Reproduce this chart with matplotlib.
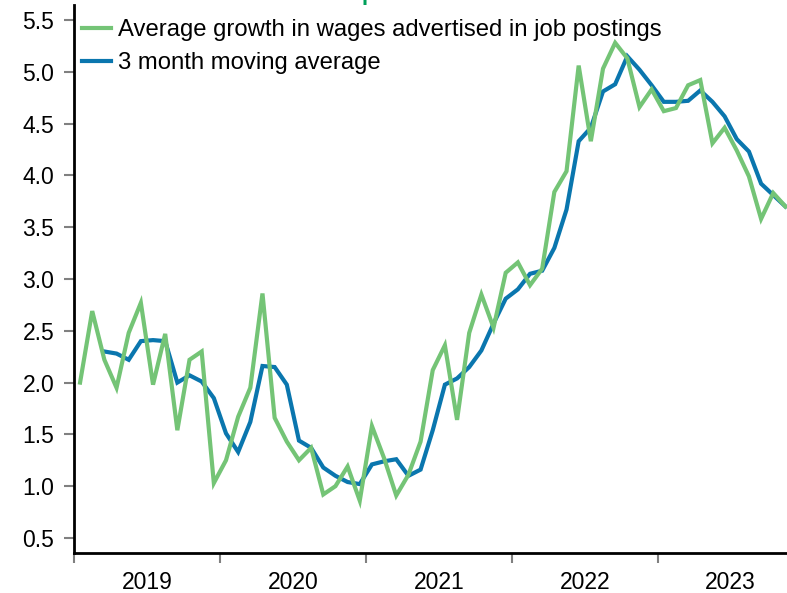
import numpy as np
import matplotlib
matplotlib.use('Agg')
import matplotlib.pyplot as plt

plt.rcParams['font.family'] = ['Liberation Sans', 'DejaVu Sans']

# monthly series, Jan 2019 - Nov 2023
years = ['2019', '2020', '2021', '2022', '2023']
wage_growth = [2.00, 2.69, 2.22, 1.95, 2.48, 2.77, 1.98, 2.47, 1.54, 2.22, 2.30, 1.03,
               1.25, 1.67, 1.95, 2.86, 1.66, 1.43, 1.25, 1.37, 0.92, 1.00, 1.19, 0.86,
               1.58, 1.27, 0.91, 1.11, 1.43, 2.12, 2.36, 1.64, 2.48, 2.85, 2.53, 3.06,
               3.16, 2.94, 3.10, 3.84, 4.04, 5.06, 4.33, 5.03, 5.28, 5.13, 4.66, 4.83,
               4.62, 4.65, 4.87, 4.92, 4.31, 4.46, 4.24, 3.99, 3.58, 3.83, 3.70]
moving_avg = [np.nan, np.nan, 2.30, 2.28, 2.22, 2.40, 2.41, 2.40, 2.00, 2.07, 2.01, 1.85,
              1.51, 1.33, 1.62, 2.16, 2.15, 1.98, 1.44, 1.37, 1.18, 1.10, 1.04, 1.02,
              1.21, 1.24, 1.26, 1.10, 1.16, 1.54, 1.98, 2.04, 2.15, 2.31, 2.57, 2.81,
              2.90, 3.05, 3.08, 3.30, 3.67, 4.33, 4.46, 4.81, 4.88, 5.15, 5.02, 4.87,
              4.71, 4.71, 4.72, 4.82, 4.71, 4.57, 4.35, 4.23, 3.92, 3.81, 3.70]

green = '#74C476'
blue = '#0A76AE'

months = np.arange(len(wage_growth))

fig = plt.figure(figsize=(7.87, 5.93), dpi=100)
ax = fig.add_axes([0.094, 0.068, 0.906, 0.9236])

l2, = ax.plot(months, moving_avg, color=blue, lw=3.0, solid_joinstyle='miter')
l1, = ax.plot(months, wage_growth, color=green, lw=3.0, solid_joinstyle='miter')

ax.set_xlim(-0.5, 58.13)
ax.set_ylim(0.358, 5.645)

ax.set_yticks(np.arange(0.5, 5.51, 0.5))
ax.set_yticklabels(['%.1f' % v for v in np.arange(0.5, 5.51, 0.5)])

# year boundaries as ticks, year names centred between them
ax.set_xticks(np.arange(len(years)) * 12 - 0.5)
ax.set_xticklabels([])
ax.set_xticks(np.arange(len(years)) * 12 + 5.5, minor=True)
ax.set_xticklabels(years, minor=True)
ax.tick_params(axis='x', which='major', length=7.2, width=1.5, color='#808080', direction='out')
ax.tick_params(axis='x', which='minor', length=0, pad=13, labelsize=16.5)
ax.tick_params(axis='y', length=7.2, width=1.5, color='#808080', labelsize=16.5, pad=7)

for s in ['top', 'right']:
    ax.spines[s].set_visible(False)
for s in ['left', 'bottom']:
    ax.spines[s].set_linewidth(2)
    ax.spines[s].set_color('black')

ax.legend([l1, l2], ['Average growth in wages advertised in job postings', '3 month moving average'],
          loc='upper left', bbox_to_anchor=(82 / 787, 1 - 19 / 593),
          bbox_transform=fig.transFigure, frameon=False, fontsize=17.2,
          handlelength=1.22, handletextpad=0.3, labelspacing=0.47,
          borderaxespad=0, borderpad=0)

# title sits above the visible area
fig.text(362 / 787, 1.0, 'p', color='#00A05A', fontweight='bold', fontsize=16,
         ha='left', va='baseline')

fig.savefig('out.png', dpi=100)
